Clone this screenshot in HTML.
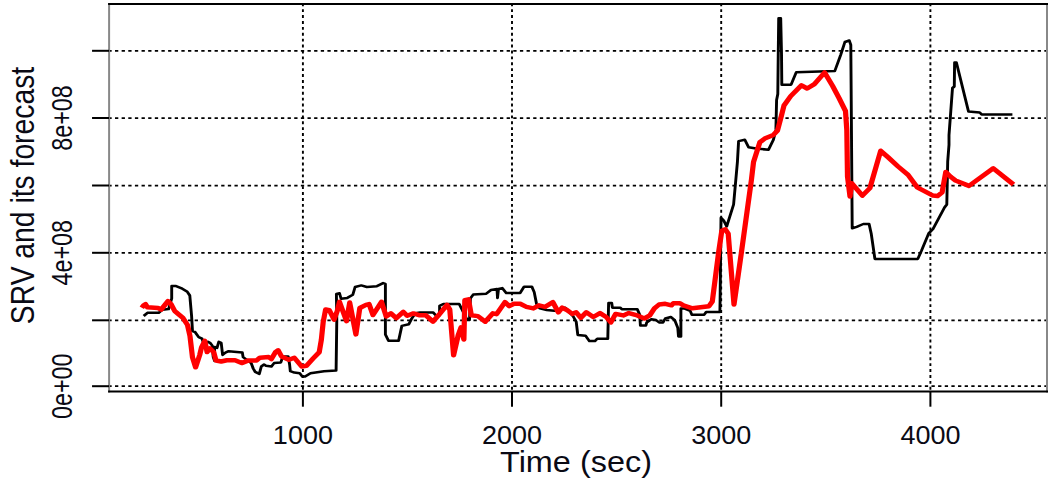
<!DOCTYPE html>
<html><head><meta charset="utf-8"><style>
html,body{margin:0;padding:0;background:#fff;}
svg{display:block;}
.gh{stroke:#000;stroke-width:1.75;stroke-dasharray:3.3 3.338;stroke-dashoffset:0.74;}
.gv{stroke:#000;stroke-width:1.9;stroke-dasharray:2.9 3.0;stroke-dashoffset:0.8;}
.ax{stroke:#000;stroke-width:2;}
text{font-family:"Liberation Sans",sans-serif;fill:#0a0a14;}
</style></head><body>
<svg width="1052" height="482" viewBox="0 0 1052 482">
<rect width="1052" height="482" fill="#fff"/>
<line x1="109.1" y1="386.2" x2="1047" y2="386.2" class="gh"/><line x1="109.1" y1="320.3" x2="1047" y2="320.3" class="gh"/><line x1="109.1" y1="252.8" x2="1047" y2="252.8" class="gh"/><line x1="109.1" y1="185.5" x2="1047" y2="185.5" class="gh"/><line x1="109.1" y1="118.0" x2="1047" y2="118.0" class="gh"/><line x1="109.1" y1="50.8" x2="1047" y2="50.8" class="gh"/><line x1="302.9" y1="4.1" x2="302.9" y2="391.6" class="gv"/><line x1="512.0" y1="4.1" x2="512.0" y2="391.6" class="gv"/><line x1="721.2" y1="4.1" x2="721.2" y2="391.6" class="gv"/><line x1="930.4" y1="4.1" x2="930.4" y2="391.6" class="gv"/>
<g transform="scale(1.16,1)">
<polyline points="123.88,316 127.07,312.8 136.81,312.8 140.00,309.7 145.34,309.1 148.02,298.5 148.02,286.1 151.81,286.1 157.16,288.7 161.47,291.8 163.62,295.5 165.17,316.1 165.95,331.2 168.10,332 171.29,337.1 174.14,338.6 175.43,343 177.59,343 179.31,341.8 181.03,342.8 183.02,345.6 183.79,356.8 185.00,361 185.00,347 187.07,347.9 188.62,341.8 190.69,342.8 191.90,354.9 194.31,352.6 197.07,351.2 208.88,352.4 209.57,357.1 216.55,363.1 218.28,368.5 220.00,371.9 223.53,373.9 225.26,366.5 227.59,364.5 229.31,365.8 233.97,366.5 236.29,363.1 242.07,362.5 243.88,356.4 248.45,356.4 249.66,364.5 250.26,371.2 253.71,372.6 258.36,373.2 260.69,376.6 263.02,376.6 267.67,373.2 279.31,371.2 289.74,370.5 290.34,320 290.00,294 292.67,293.2 294.05,298.7 299.40,297.9 304.14,294.8 306.12,287 311.47,285.4 316.21,287 324.91,286.2 330.26,283.1 332.24,283.9 332.24,334.4 334.91,340.7 343.62,340.7 346.38,325.9 352.41,324.3 354.74,318.9 358.02,313.3 362.07,312.4 373.28,312.4 375.69,315.2 378.97,315.2 378.97,305.8 382.16,304 395.86,304 398.28,309.6 402.33,318.9 404.74,319.8 405.52,298.4 407.93,294.6 419.22,293.7 423.28,290 428.45,289 428.88,298 429.74,289 432.93,288.1 436.38,292.9 448.45,292.9 451.81,286.7 458.53,286.7 460.52,292.1 462.50,303.8 465.26,308.4 471.29,310 477.93,310.8 480.60,310 487.33,307.7 494.05,316.2 496.72,321.7 498.10,334.9 504.74,335.7 508.10,341.1 512.84,341.1 514.83,338.8 523.97,338.8 524.66,303 527.33,303 527.93,307.7 534.66,307.7 536.03,309.2 549.40,309.2 551.47,314.7 552.07,325.5 556.81,325.5 557.50,322.4 561.47,319.3 565.52,320.1 568.19,322.4 571.55,322.4 573.53,318.5 578.28,317 581.64,320.1 584.31,327.9 584.91,336.4 586.98,336.4 586.98,308.4 589.66,308.4 595.00,310.8 596.38,314.7 607.07,314.7 608.79,312 620.60,312 620.78,300 621.55,217.7 623.88,220.6 626.47,226.4 632.41,204.5 635.69,162.2 636.72,141.1 642.07,139.8 645.34,147.3 651.72,148.5 662.50,149.8 666.72,139.8 668.88,129.9 669.48,100 670.52,94 670.86,57.7 671.29,18.3 673.02,18.3 673.71,53.6 673.97,84.7 681.98,84.7 686.47,72.2 719.66,71 724.66,55.1 728.36,42 732.16,40.5 733.45,44.9 734.66,228.3 738.53,226.9 744.22,224 749.22,224 751.03,233.4 754.22,258.9 791.21,258.9 794.31,250.9 800.60,233.4 804.31,229 814.22,207.5 816.21,204.5 816.98,161.7 818.10,144.8 818.10,135.1 819.66,110.9 821.12,88 822.67,86.5 822.93,62.5 824.48,62.5 834.91,111.6 844.57,112.5 846.21,114.4 872.76,114.4" fill="none" stroke="#000" stroke-width="2.5" stroke-linejoin="round"/>
<polyline points="122.24,307.7 123.88,305.3 125.52,304.2 127.07,307.3 136.21,308 138.88,309.6 144.83,301.1 147.50,304.3 150.69,311.1 157.67,317.9 161.64,325 163.79,336.2 165.95,357.4 168.62,367.3 172.16,355 173.71,347.4 176.55,340.9 178.53,352.1 181.03,348.4 184.22,352.1 186.21,360.5 190.69,361.5 195.52,360.3 202.59,360.3 208.36,363.1 214.22,360.4 221.21,360.4 224.05,357.7 231.64,357.1 233.97,359.1 237.41,352.3 239.74,350.3 242.67,356.4 249.05,359.8 253.71,357.7 260.09,366.5 264.14,365.8 270.00,358.4 275.17,352.3 276.98,340.2 278.62,322 280.69,309.5 283.97,310.3 288.02,319.7 290.69,311.1 292.67,301.8 298.71,321.2 301.47,302.6 306.81,334.4 310.17,308 315.52,304.9 318.19,304.1 321.55,315 328.88,301.8 332.93,316.5 336.98,313.4 341.64,318.1 347.67,311.9 351.03,315.8 356.38,313.4 361.21,315.2 366.90,315.2 373.28,321.7 378.10,315.2 385.34,304.9 387.76,309.6 391.03,355.3 395.09,334.8 397.41,327.3 399.91,339.5 400.69,300.2 403.88,299.3 406.29,315.2 411.98,316.1 418.36,321.7 424.83,313.3 428.10,314.2 435.34,302.1 439.05,306.1 443.10,303.8 448.45,303.8 453.79,306.9 459.83,308.4 464.57,305.3 469.91,306.9 476.64,302.2 481.29,312.3 484.66,307.7 488.71,310 493.36,313.9 496.72,312.3 500.78,317.8 505.43,312.3 511.47,317 517.24,313.1 522.59,317 526.64,322.4 530.69,313.9 537.33,315.4 542.07,313.1 549.40,315.4 555.43,318.5 560.17,315.4 564.14,308.4 568.19,304.5 573.53,303.8 578.88,305.3 580.43,303.3 586.21,303.3 589.05,305.4 596.90,308.3 611.21,306.2 614.05,301.5 619.48,252.5 622.24,230.7 625.26,229.3 627.76,233.6 632.76,304.6 638.97,253.9 647.76,180 649.57,162.2 655.00,142.3 659.22,138.6 666.72,134.9 670.26,130.5 673.53,116.3 675.86,105.5 681.64,96.1 690.95,85.3 695.86,88.5 702.07,84.1 710.86,72.5 717.67,85.8 723.28,98 728.88,111 730.00,130 730.60,176.5 732.76,196.4 734.14,183.2 743.45,195.6 749.91,188.1 759.22,150.8 765.69,157.4 774.22,166.5 782.84,174.9 790.69,187.3 804.31,195.6 808.19,196.1 812.16,192.4 815.34,171.9 819.40,176.6 823.71,180.5 835.34,185.9 856.29,168.3 873.71,184.5" fill="none" stroke="#f00" stroke-width="4.5" stroke-linejoin="round"/>
</g>
<line x1="109.1" y1="3.0999999999999996" x2="109.1" y2="392.6" stroke="#888" stroke-width="2"/>
<line x1="1047" y1="3.0999999999999996" x2="1047" y2="392.6" stroke="#888" stroke-width="2"/>
<line x1="108.1" y1="4.1" x2="1048" y2="4.1" stroke="#000" stroke-width="2"/>
<line x1="108.1" y1="391.6" x2="1048" y2="391.6" stroke="#000" stroke-width="2"/>
<line x1="92.05" y1="386.2" x2="109.1" y2="386.2" class="ax"/><line x1="92.05" y1="320.3" x2="109.1" y2="320.3" class="ax"/><line x1="92.05" y1="252.8" x2="109.1" y2="252.8" class="ax"/><line x1="92.05" y1="185.5" x2="109.1" y2="185.5" class="ax"/><line x1="92.05" y1="118.0" x2="109.1" y2="118.0" class="ax"/><line x1="92.05" y1="50.8" x2="109.1" y2="50.8" class="ax"/><line x1="302.9" y1="391.6" x2="302.9" y2="406.7" class="ax"/><line x1="512.0" y1="391.6" x2="512.0" y2="406.7" class="ax"/><line x1="721.2" y1="391.6" x2="721.2" y2="406.7" class="ax"/><line x1="930.4" y1="391.6" x2="930.4" y2="406.7" class="ax"/>
<g font-size="25">
<text x="302.9" y="444.5" text-anchor="middle" transform="translate(302.9,0) scale(1.08,1) translate(-302.9,0)">1000</text>
<text x="512.07" y="444.5" text-anchor="middle" transform="translate(512.07,0) scale(1.08,1) translate(-512.07,0)">2000</text>
<text x="721.23" y="444.5" text-anchor="middle" transform="translate(721.23,0) scale(1.08,1) translate(-721.23,0)">3000</text>
<text x="930.4" y="444.5" text-anchor="middle" transform="translate(930.4,0) scale(1.08,1) translate(-930.4,0)">4000</text>
</g>
<text x="576" y="471.9" font-size="29" text-anchor="middle" transform="translate(576,0) scale(1.118,1) translate(-576,0)">Time (sec)</text>
<g font-size="23.35">
<text transform="translate(71.5,386.2) scale(1.234,1) rotate(-90)" text-anchor="middle">0e+00</text>
<text transform="translate(71.5,252.8) scale(1.234,1) rotate(-90)" text-anchor="middle">4e+08</text>
<text transform="translate(71.5,118.0) scale(1.234,1) rotate(-90)" text-anchor="middle">8e+08</text>
</g>
<text transform="translate(34.2,195.5) scale(1.16,1) rotate(-90)" font-size="28.3" text-anchor="middle">SRV and its forecast</text>
</svg>
</body></html>
